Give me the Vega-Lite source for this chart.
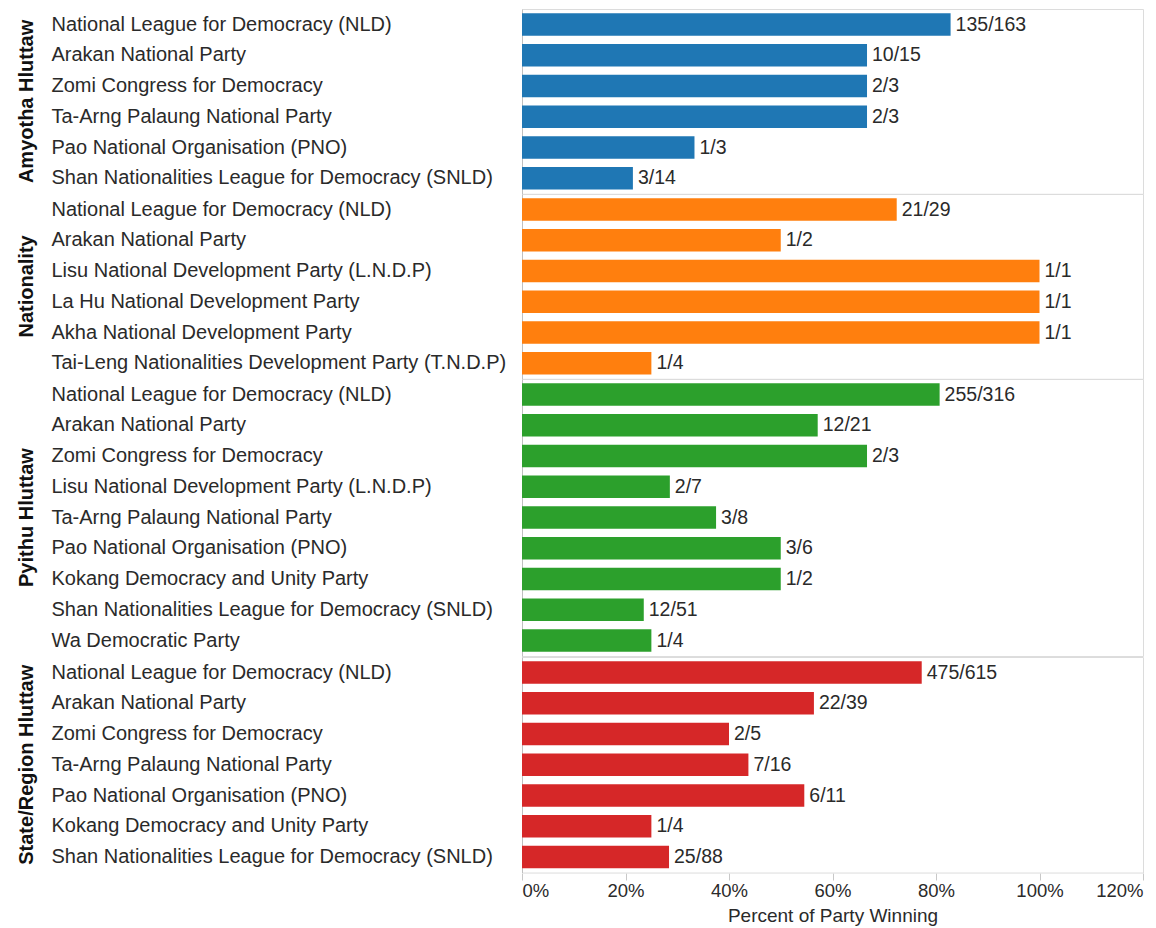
{
  "$schema": "https://vega.github.io/schema/vega-lite/v6.json",
  "padding": {"left": 17, "top": 8, "right": 5, "bottom": 5},
  "background": "white",
  "bounds": "flush",
  "data": {"values": [
    {"chamber": "Amyotha Hluttaw", "party": "National League for Democracy (NLD)", "pct": 0.8282, "label": "135/163"},
    {"chamber": "Amyotha Hluttaw", "party": "Arakan National Party", "pct": 0.6667, "label": "10/15"},
    {"chamber": "Amyotha Hluttaw", "party": "Zomi Congress for Democracy", "pct": 0.6667, "label": "2/3"},
    {"chamber": "Amyotha Hluttaw", "party": "Ta-Arng Palaung National Party", "pct": 0.6667, "label": "2/3"},
    {"chamber": "Amyotha Hluttaw", "party": "Pao National Organisation (PNO)", "pct": 0.3333, "label": "1/3"},
    {"chamber": "Amyotha Hluttaw", "party": "Shan Nationalities League for Democracy (SNLD)", "pct": 0.2143, "label": "3/14"},
    {"chamber": "Nationality", "party": "National League for Democracy (NLD)", "pct": 0.7241, "label": "21/29"},
    {"chamber": "Nationality", "party": "Arakan National Party", "pct": 0.5, "label": "1/2"},
    {"chamber": "Nationality", "party": "Lisu National Development Party (L.N.D.P)", "pct": 1.0, "label": "1/1"},
    {"chamber": "Nationality", "party": "La Hu National Development Party", "pct": 1.0, "label": "1/1"},
    {"chamber": "Nationality", "party": "Akha National Development Party", "pct": 1.0, "label": "1/1"},
    {"chamber": "Nationality", "party": "Tai-Leng Nationalities Development Party (T.N.D.P)", "pct": 0.25, "label": "1/4"},
    {"chamber": "Pyithu Hluttaw", "party": "National League for Democracy (NLD)", "pct": 0.8070, "label": "255/316"},
    {"chamber": "Pyithu Hluttaw", "party": "Arakan National Party", "pct": 0.5714, "label": "12/21"},
    {"chamber": "Pyithu Hluttaw", "party": "Zomi Congress for Democracy", "pct": 0.6667, "label": "2/3"},
    {"chamber": "Pyithu Hluttaw", "party": "Lisu National Development Party (L.N.D.P)", "pct": 0.2857, "label": "2/7"},
    {"chamber": "Pyithu Hluttaw", "party": "Ta-Arng Palaung National Party", "pct": 0.375, "label": "3/8"},
    {"chamber": "Pyithu Hluttaw", "party": "Pao National Organisation (PNO)", "pct": 0.5, "label": "3/6"},
    {"chamber": "Pyithu Hluttaw", "party": "Kokang Democracy and Unity Party", "pct": 0.5, "label": "1/2"},
    {"chamber": "Pyithu Hluttaw", "party": "Shan Nationalities League for Democracy (SNLD)", "pct": 0.2353, "label": "12/51"},
    {"chamber": "Pyithu Hluttaw", "party": "Wa Democratic Party", "pct": 0.25, "label": "1/4"},
    {"chamber": "State/Region Hluttaw", "party": "National League for Democracy (NLD)", "pct": 0.7724, "label": "475/615"},
    {"chamber": "State/Region Hluttaw", "party": "Arakan National Party", "pct": 0.5641, "label": "22/39"},
    {"chamber": "State/Region Hluttaw", "party": "Zomi Congress for Democracy", "pct": 0.4, "label": "2/5"},
    {"chamber": "State/Region Hluttaw", "party": "Ta-Arng Palaung National Party", "pct": 0.4375, "label": "7/16"},
    {"chamber": "State/Region Hluttaw", "party": "Pao National Organisation (PNO)", "pct": 0.5455, "label": "6/11"},
    {"chamber": "State/Region Hluttaw", "party": "Kokang Democracy and Unity Party", "pct": 0.25, "label": "1/4"},
    {"chamber": "State/Region Hluttaw", "party": "Shan Nationalities League for Democracy (SNLD)", "pct": 0.2841, "label": "25/88"}
  ]},
  "facet": {
    "row": {
      "field": "chamber", "type": "nominal",
      "sort": ["Amyotha Hluttaw", "Nationality", "Pyithu Hluttaw", "State/Region Hluttaw"],
      "title": null,
      "header": {"labelOrient": "left", "labelAngle": -90, "labelFontWeight": "bold", "labelFontSize": 20, "labelColor": "#111", "labelPadding": 475, "labelFont": "Liberation Sans"}
    }
  },
  "spacing": 0,
  "resolve": {"scale": {"y": "independent"}},
  "spec": {
    "width": 621,
    "height": {"step": 30.75},
    "encoding": {
      "y": {"field": "party", "type": "nominal", "sort": null, "title": null,
        "scale": {"paddingInner": 0.27, "paddingOuter": 0.14},
        "axis": {"labelAlign": "left", "labelPadding": 471, "labelLimit": 480, "ticks": false, "domain": true, "domainColor": "#c0c0c0", "labelFontSize": 20, "labelColor": "#2a2a2a"}},
      "x": {"field": "pct", "type": "quantitative", "title": "Percent of Party Winning",
        "scale": {"domain": [0, 1.2], "nice": false},
        "axis": {"format": ".0%", "values": [0, 0.2, 0.4, 0.6, 0.8, 1.0, 1.2], "grid": false, "domain": false, "tickColor": "#c8c8c8", "tickSize": 7, "labelFlush": true, "labelFontSize": 18.5, "labelColor": "#2a2a2a", "titleFontSize": 19, "titleFontWeight": "normal", "titleColor": "#2a2a2a", "labelPadding": 1, "titlePadding": 7}}
    },
    "layer": [
      {"mark": {"type": "bar"},
       "encoding": {"color": {"field": "chamber", "type": "nominal", "legend": null,
         "scale": {"domain": ["Amyotha Hluttaw", "Nationality", "Pyithu Hluttaw", "State/Region Hluttaw"], "range": ["#1f77b4", "#ff7f0e", "#2ca02c", "#d62728"]}}}},
      {"mark": {"type": "text", "align": "left", "dx": 5, "fontSize": 19.5, "color": "#2a2a2a"},
       "encoding": {"text": {"field": "label"}}}
    ]
  },
  "config": {
    "font": "Liberation Sans",
    "view": {"stroke": "#dcdcdc", "strokeWidth": 1}
  }
}
